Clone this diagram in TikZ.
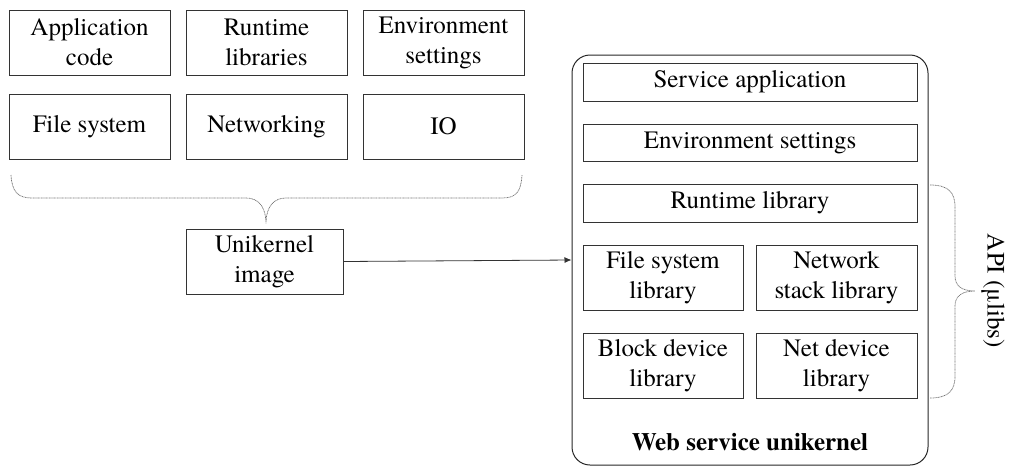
\documentclass[tikz,border=0pt]{standalone}
\usepackage{fontspec}
\setmainfont{TeX Gyre Termes}
\usetikzlibrary{arrows.meta}
\begin{document}
\begin{tikzpicture}[x=1pt,y=-1pt,
  box/.style={draw=black!80, line width=1pt, inner sep=0pt, align=center,
    font=\fontsize{25}{30}\selectfont},
  brace/.style={draw=black!55, line width=0.7pt, dash pattern=on 1pt off 0.6pt},
  conn/.style={draw=black!80, line width=0.8pt, -{Latex[length=7pt,width=6pt]}}]
\useasboundingbox (0,0) rectangle (1009,467);
% left group
\node[box, minimum width=161, minimum height=65] (app) at (89.5,42.5) {Application\\code};
\node[box, minimum width=161, minimum height=65] (rt) at (266.5,42.5) {Runtime\\libraries};
\node[box, minimum width=161, minimum height=65] (env) at (443.5,42.5) {Environment\\settings};
\node[box, minimum width=161, minimum height=65] (fs) at (89.5,126.5) {File system};
\node[box, minimum width=161, minimum height=65] (net) at (266.5,126.5) {Networking};
\node[box, minimum width=161, minimum height=65] (io) at (443.5,126.5) {IO};
\node[box, minimum width=157, minimum height=65] (img) at (264.5,261.5) {Unikernel\\image};
% brace under left group
\coordinate (bl) at (11,175);
\coordinate (br) at (522,175);
\coordinate (bt) at (266,221);
\path[brace] (bl) .. controls (12,192) and (18,198) .. (32,198)
  -- (246,198) .. controls (258,198) and (265,206) .. (bt)
  .. controls (267,206) and (274,198) .. (286,198)
  -- (502,198) .. controls (516,198) and (521,192) .. (br);
% big container
\node[draw=black!85, line width=1pt, rounded corners=18pt, minimum width=356,
  minimum height=410, inner sep=0pt] (ws) at (750,260) {};
\node[font=\fontsize{25}{30}\selectfont\bfseries] (wst) at (750,442) {Web service unikernel};
\node[box, minimum width=334, minimum height=38] (sa) at (750,82) {Service application};
\node[box, minimum width=334, minimum height=37] (es) at (750,142.5) {Environment settings};
\node[box, minimum width=334, minimum height=38] (rl) at (750,203) {Runtime library};
\node[box, minimum width=160, minimum height=65] (fsl) at (663,277.5) {File system\\library};
\node[box, minimum width=161, minimum height=65] (nsl) at (836.5,277.5) {Network\\stack library};
\node[box, minimum width=160, minimum height=65] (bdl) at (663,365.5) {Block device\\library};
\node[box, minimum width=161, minimum height=65] (ndl) at (836.5,365.5) {Net device\\library};
% arrow
\draw[conn] (img.east) -- (ws.west);
% right brace
\coordinate (rt1) at (930,185);
\coordinate (rb1) at (930,398);
\coordinate (rtip) at (975,291);
\path[brace] (rt1) .. controls (948,185) and (955,192) .. (955,207)
  -- (955,276) .. controls (955,286) and (962,291) .. (rtip)
  .. controls (962,291) and (955,296) .. (955,306)
  -- (955,376) .. controls (955,391) and (948,398) .. (rb1);
\node[font=\fontsize{25}{30}\selectfont, rotate=-90] (api) at (993,291) {API (μlibs)};
\end{tikzpicture}
\end{document}
